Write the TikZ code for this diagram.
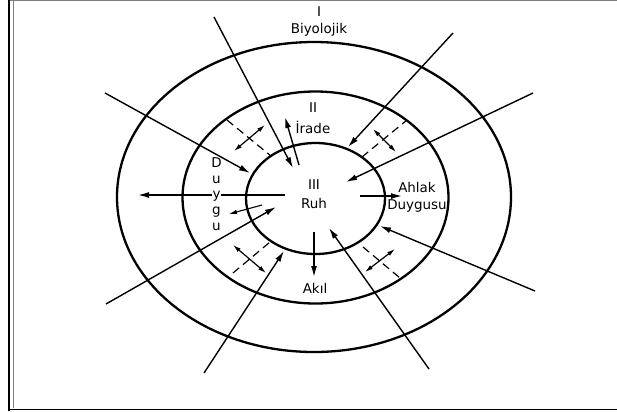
\documentclass[tikz,border=0pt]{standalone}
\usepackage{fontspec}
\setmainfont{DejaVu Sans}
\usetikzlibrary{arrows.meta}
\definecolor{framegray}{HTML}{7F7F7F}

\begin{document}
\begin{tikzpicture}[
  x=1bp, y=-1bp,
  ring/.style={line width=2.3bp},
  ray/.style={line width=1.4bp, -{Latex[length=11bp,width=6bp]}},
  both/.style={line width=1.2bp, {Latex[length=8bp,width=4.5bp]}-{Latex[length=8bp,width=4.5bp]}},
  split/.style={line width=1.2bp, dash pattern=on 8bp off 5bp},
  lbl/.style={font=\fontsize{13.5}{15}\selectfont, inner sep=1pt, align=center},
  vlbl/.style={lbl, fill=white, inner sep=0.5pt},
]
\useasboundingbox (0,0) rectangle (617,411);
% frame
\draw[framegray, line width=1bp] (8,0.5) -- (617,0.5);
\draw[framegray, line width=0.8bp] (13,1) -- (13,408);
\draw[line width=2.2bp] (9,0) -- (9,410.5);
\draw[line width=1.4bp] (8,409.5) -- (617,409.5);

% rings
\draw[ring] (314,197) ellipse [x radius=197bp, y radius=155bp];
\draw[ring] (315.5,197.5) ellipse [x radius=133bp, y radius=106bp];
\draw[ring] (315.5,198.5) ellipse [x radius=69.5bp, y radius=55.5bp];

% labels
\node[lbl] (one) at (319,12) {I};
\node[lbl] (bio) at (319,30) {Biyolojik};
\node[lbl] (two) at (313,108) {II};
\node[lbl] (irade) at (313,127) {İrade};
\node[lbl] (three) at (314,185) {III};
\node[lbl] (ruh) at (314,203) {Ruh};
\node[lbl] (ahlak) at (417,187) {Ahlak};
\node[lbl] (duygusu) at (417,206) {Duygusu};
\node[lbl] (akil) at (315,288) {Akıl};
\node[vlbl] (dD) at (216.5,163) {D};
\node[vlbl] (dU) at (216.5,180) {u};
\node[vlbl] (dY) at (216.5,196) {y};
\node[vlbl] (dG) at (216.5,212) {g};
\node[vlbl] (dU2) at (216.5,227) {u};

% ray ends
\coordinate (tlA) at (214,17);  \coordinate (tlB) at (293,168);
\coordinate (irA) at (299,165); \coordinate (irB) at (285,117);
\coordinate (ulA) at (105,93);  \coordinate (ulB) at (250,173);
\coordinate (urA) at (453,33);  \coordinate (urB) at (348,147);
\coordinate (rtA) at (533,93);  \coordinate (rtB) at (346,182);
\coordinate (lfA) at (285,195); \coordinate (lfB) at (138,195);
\coordinate (ahA) at (360,196); \coordinate (ahB) at (402,196);
\coordinate (gA) at (262,205);  \coordinate (gB) at (229,214);
\coordinate (llA) at (106,304); \coordinate (llB) at (276,207);
\coordinate (blA) at (204,373); \coordinate (blB) at (284,251);
\coordinate (akA) at (314,232); \coordinate (akB) at (314,277);
\coordinate (brA) at (429,369); \coordinate (brB) at (329,228);
\coordinate (lrA) at (535,291); \coordinate (lrB) at (380,226);

\draw[ray] (tlA) -- (tlB);
\draw[ray] (irA) -- (irB);
\draw[ray] (ulA) -- (ulB);
\draw[ray] (urA) -- (urB);
\draw[ray] (rtA) -- (rtB);
\draw[ray] (lfA) -- (lfB);
\draw[ray] (ahA) -- (ahB);
\draw[ray, line width=1.1bp, -{Latex[length=8bp,width=4.5bp]}] (gA) -- (gB);
\draw[ray] (llA) -- (llB);
\draw[ray] (blA) -- (blB);
\draw[ray] (akA) -- (akB);
\draw[ray] (brA) -- (brB);
\draw[ray] (lrA) -- (lrB);
% redraw y on top of the line
\node[vlbl] at (dY) {y};

% dashed crosses
\coordinate (c1a) at (227,120); \coordinate (c1b) at (271,156);
\coordinate (c1c) at (234,151); \coordinate (c1d) at (265,125);
\coordinate (c2a) at (362,157); \coordinate (c2b) at (407,120);
\coordinate (c2c) at (373,129); \coordinate (c2d) at (396,152);
\coordinate (c3a) at (233,273); \coordinate (c3b) at (270,242);
\coordinate (c3c) at (233,245); \coordinate (c3d) at (266,273);
\coordinate (c4a) at (363,247); \coordinate (c4b) at (400,278);
\coordinate (c4c) at (395,249); \coordinate (c4d) at (365,272);

\draw[split] (c1a) -- (c1b);
\draw[both] (c1c) -- (c1d);
\draw[split] (c2a) -- (c2b);
\draw[both] (c2c) -- (c2d);
\draw[split] (c3a) -- (c3b);
\draw[both] (c3c) -- (c3d);
\draw[split] (c4a) -- (c4b);
\draw[both] (c4c) -- (c4d);
\end{tikzpicture}
\end{document}
